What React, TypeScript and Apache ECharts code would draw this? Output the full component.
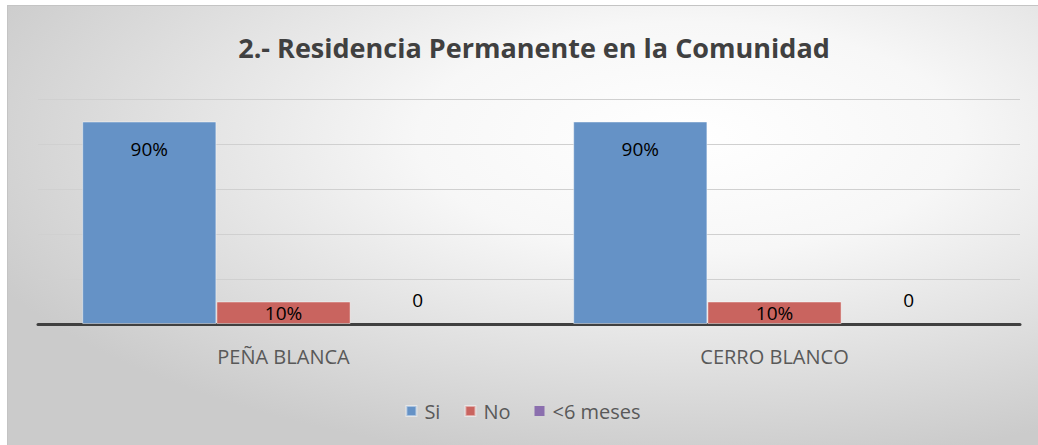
import React, { useEffect, useRef } from "react";
import * as echarts from "echarts";

const categories = ["PEÑA BLANCA", "CERRO BLANCO"];
const seriesNames = ["Si", "No", "<6 meses"];
const siValues = [0.9, 0.9];
const noValues = [0.1, 0.1];
const menosSeisValues = [0, 0];
const titleText = "2.- Residencia Permanente en la Comunidad";

const FONT = "'Open Sans', 'Liberation Sans', sans-serif";

export default function App() {
  const ref = useRef<HTMLDivElement>(null);
  useEffect(() => {
    if (!ref.current) return;
    const chart = echarts.init(ref.current, undefined, { renderer: "svg" });
    const pct = (p: any) => `${Math.round(p.value * 100)}%`;
    const labelBase = { show: true, color: "#000", fontSize: 19, fontFamily: FONT };
    chart.setOption({
      animation: false,
      backgroundColor: new echarts.graphic.RadialGradient(0.66, 0.3, 0.75, [
        { offset: 0, color: "#ffffff" },
        { offset: 0.35, color: "#f7f7f7" },
        { offset: 1, color: "#cbcbcb" },
      ]),
      title: {
        text: titleText,
        left: 521,
        top: 23,
        textAlign: "center",
        textStyle: { fontFamily: FONT, fontWeight: "bold", fontSize: 27, color: "#404040" },
      },
      legend: {
        bottom: 19,
        left: "center",
        itemWidth: 10,
        itemHeight: 10,
        itemGap: 24,
        icon: "rect",
        textStyle: { fontFamily: FONT, fontSize: 20, color: "#595959", padding: [0, 0, 0, 3] },
        data: seriesNames,
      },
      grid: { left: 30, right: 18, top: 93, bottom: 121, containLabel: false },
      xAxis: {
        type: "category",
        data: categories,
        axisLine: { lineStyle: { color: "#404040", width: 3 } },
        axisTick: { show: false },
        axisLabel: { fontFamily: FONT, fontSize: 20, color: "#595959", margin: 22 },
      },
      yAxis: {
        type: "value",
        min: 0,
        max: 1,
        interval: 0.2,
        axisLabel: { show: false },
        axisLine: { show: false },
        axisTick: { show: false },
        splitLine: { lineStyle: { color: "#d0d0d0", width: 1 } },
      },
      series: [
        {
          name: seriesNames[0],
          type: "bar",
          data: siValues,
          barGap: "0%",
          barCategoryGap: "18%",
          itemStyle: { color: "#6592C6", borderColor: "rgba(255,255,255,0.45)", borderWidth: 1 },
          label: { ...labelBase, position: "insideTop", distance: 18, formatter: pct },
        },
        {
          name: seriesNames[1],
          type: "bar",
          data: noValues,
          barGap: "0%",
          barCategoryGap: "18%",
          itemStyle: { color: "#C9645F", borderColor: "rgba(255,255,255,0.45)", borderWidth: 1 },
          label: { ...labelBase, position: "inside", formatter: pct },
        },
        {
          name: seriesNames[2],
          type: "bar",
          data: menosSeisValues,
          barGap: "0%",
          barCategoryGap: "18%",
          itemStyle: { color: "#8B6FAE" },
          label: { ...labelBase, position: "top", distance: 15, formatter: (p: any) => `${p.value}` },
        },
      ],
    });
    return () => chart.dispose();
  }, []);
  return (
    <div
      ref={ref}
      style={{
        position: "absolute",
        left: 7,
        top: 5,
        width: 1031,
        height: 440,
        borderTop: "1px solid #c4c4c4",
        borderLeft: "1px solid #c4c4c4",
        boxSizing: "border-box",
      }}
    />
  );
}
